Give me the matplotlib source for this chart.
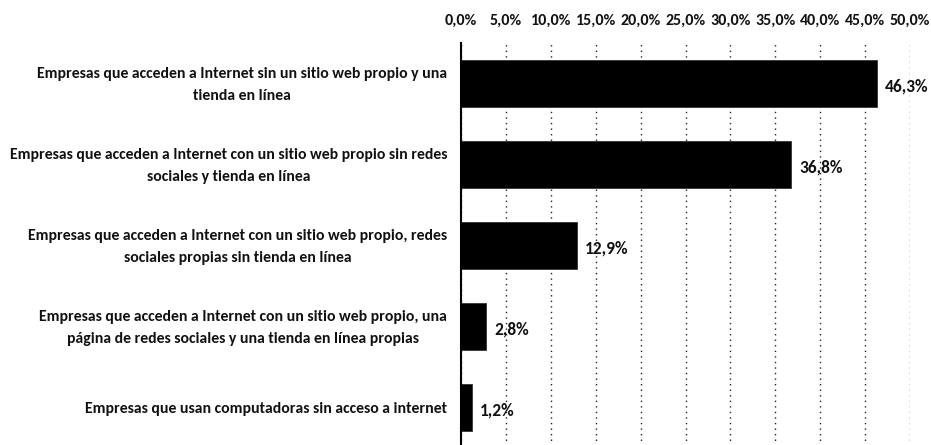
import matplotlib
matplotlib.use("Agg")
import matplotlib.pyplot as plt
from matplotlib.ticker import FixedLocator, FuncFormatter

categories = [
    "Empresas que acceden a Internet sin un sitio web propio y una\ntienda en línea",
    "Empresas que acceden a Internet con un sitio web propio sin redes\nsociales y tienda en línea",
    "Empresas que acceden a Internet con un sitio web propio, redes\nsociales propias sin tienda en línea",
    "Empresas que acceden a Internet con un sitio web propio, una\npágina de redes sociales y una tienda en línea propias",
    "Empresas que usan computadoras sin acceso a internet",
]
values = [46.3, 36.8, 12.9, 2.8, 1.2]
ticks = [0, 5, 10, 15, 20, 25, 30, 35, 40, 45, 50]

FONT = ["Carlito", "IBM Plex Sans Condensed", "DejaVu Sans"]

W, H = 931, 445
fig = plt.figure(figsize=(W / 100, H / 100), dpi=100)
ax = fig.add_axes([461 / W, 1 - 448 / H, 449 / W, 405 / H])

ypos = list(range(len(values)))
ax.barh(ypos, values, height=0.57, color="black", edgecolor="#333333",
        linewidth=0.6, zorder=3)
ax.set_ylim(len(values) - 0.5, -0.5)
ax.set_xlim(0, 50)

for y, v in zip(ypos, values):
    ax.text(v + 0.9, y + 0.04, f"{v:.1f}%".replace(".", ","), va="center",
            ha="left", fontsize=12.5, fontweight="bold", family=FONT,
            color="#111111", zorder=4)

for y, lab in zip(ypos, categories):
    ax.text(-0.031, y + 0.015, lab, transform=ax.get_yaxis_transform(),
            ha="right", va="center", multialignment="center",
            fontsize=11.3, fontweight="bold", family=FONT, color="#111111",
            linespacing=1.75)

ax.xaxis.set_major_locator(FixedLocator(ticks))
ax.xaxis.set_major_formatter(FuncFormatter(lambda x, p: f"{x:.1f}%".replace(".", ",")))
ax.xaxis.tick_top()
ax.tick_params(axis="x", length=0, pad=11, labelsize=11.5, labelcolor="#111111")
for t in ax.get_xticklabels():
    t.set_fontweight("bold")
    t.set_family(FONT)
ax.set_yticks([])

ax.grid(axis="x", linestyle=(0, (1, 3)), color="#222222", linewidth=1.0, zorder=0)
for s in ["top", "right", "bottom"]:
    ax.spines[s].set_visible(False)
ax.spines["left"].set_color("black")
ax.spines["left"].set_linewidth(1.5)
ax.spines["left"].set_zorder(5)

fig.savefig("out.png", dpi=100, facecolor="white")
